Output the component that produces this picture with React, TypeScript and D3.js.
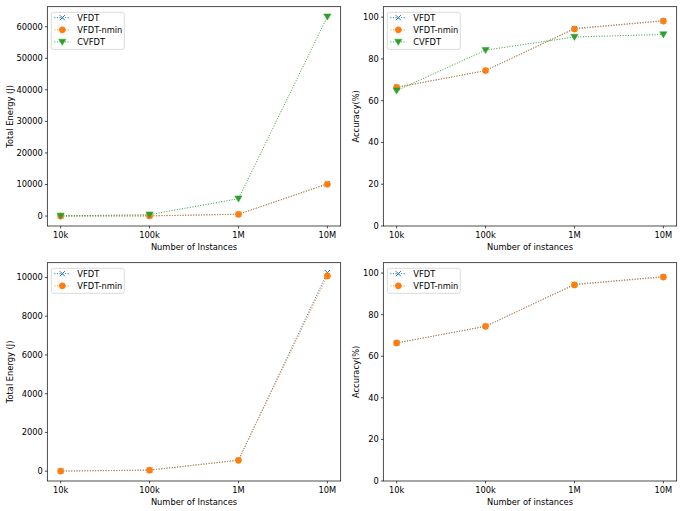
import React from "react";
import * as d3 from "d3";

const categories = ["10k", "100k", "1M", "10M"];
const energyVFDT = [5, 55, 570, 10250];
const energyNmin = [5, 50, 560, 10080];
const energyCVFDT = [60, 450, 5500, 63200];
const accVFDT = [66.4, 74.4, 94.6, 98.3];
const accNmin = [66.4, 74.4, 94.3, 98.1];
const accCVFDT = [64.8, 84.2, 90.5, 91.7];
const ticksEnergyTop = [0, 10000, 20000, 30000, 40000, 50000, 60000];
const ticksEnergyBottom = [0, 2000, 4000, 6000, 8000, 10000];
const ticksAcc = [0, 20, 40, 60, 80, 100];

const BLUE = "#1f77b4";
const ORANGE = "#ff7f0e";
const GREEN = "#2ca02c";
const FONT = "DejaVu Sans, sans-serif";
const FS = 8.3;

type Series = { name: string; values: number[]; color: string; marker: "x" | "o" | "v" };

function Marker({ type, x, y, color }: { type: string; x: number; y: number; color: string }) {
  if (type === "x") {
    const r = 2.6;
    return (
      <path
        d={`M${x - r},${y - r}L${x + r},${y + r}M${x - r},${y + r}L${x + r},${y - r}`}
        stroke={color}
        strokeWidth={1}
        fill="none"
      />
    );
  }
  if (type === "o") {
    return <circle cx={x} cy={y} r={3.1} fill={color} stroke={color} strokeWidth={0.6} />;
  }
  const r = 3.6;
  return (
    <path
      d={`M${x - r},${y - r * 0.75}L${x + r},${y - r * 0.75}L${x},${y + r * 0.95}Z`}
      fill={color}
      stroke={color}
      strokeWidth={0.5}
    />
  );
}

function Panel({
  left, top, right, bottom, series, yDomain, yTicks, yLabel, xLabel, yLabelOffset,
}: {
  left: number; top: number; right: number; bottom: number; series: Series[];
  yDomain: [number, number]; yTicks: number[]; yLabel: string; xLabel: string; yLabelOffset: number;
}) {
  const idx = categories.map((_, i) => i);
  const x = d3.scaleLinear().domain([-0.15, categories.length - 1 + 0.15]).range([left, right]);
  const y = d3.scaleLinear().domain(yDomain).range([bottom, top]);
  const line = d3.line<number>().x((_, i) => x(i)).y((d) => y(d));
  const legTop = top + 5.6;
  const legLeft = left + 4;
  const legW = 73;
  const legH = 12.1 * series.length + 0.8;
  return (
    <g>
      {series.map((s) => (
        <path key={s.name} d={line(s.values) || ""} fill="none" stroke={s.color} strokeWidth={1}
          strokeDasharray="1,1.65" />
      ))}
      {series.map((s) => (
        <g key={s.name + "m"}>
          {s.values.map((v, i) => (
            <Marker key={i} type={s.marker} x={x(i)} y={y(v)} color={s.color} />
          ))}
        </g>
      ))}
      <rect x={left} y={top} width={right - left} height={bottom - top} fill="none" stroke="#000" strokeWidth={0.7} />
      {idx.map((i) => (
        <g key={i}>
          <line x1={x(i)} x2={x(i)} y1={bottom} y2={bottom + 2.4} stroke="#000" strokeWidth={0.7} />
          <text x={x(i)} y={bottom + 12.2} textAnchor="middle" fontSize={FS} fontFamily={FONT} fill="#000">
            {categories[i]}
          </text>
        </g>
      ))}
      {yTicks.map((t) => (
        <g key={t}>
          <line x1={left - 2.4} x2={left} y1={y(t)} y2={y(t)} stroke="#000" strokeWidth={0.7} />
          <text x={left - 4.5} y={y(t)} dy="0.35em" textAnchor="end" fontSize={FS} fontFamily={FONT} fill="#000">
            {t}
          </text>
        </g>
      ))}
      <text x={(left + right) / 2} y={bottom + 23.6} textAnchor="middle" fontSize={FS} fontFamily={FONT} fill="#000">
        {xLabel}
      </text>
      <text
        transform={`translate(${left - yLabelOffset},${(top + bottom) / 2}) rotate(-90)`}
        textAnchor="middle"
        dy="0.35em"
        fontSize={FS}
        fontFamily={FONT}
        fill="#000"
      >
        {yLabel}
      </text>
      <rect x={legLeft} y={legTop} width={legW} height={legH} rx={2} fill="#fff" fillOpacity={0.8}
        stroke="#ccc" strokeWidth={0.7} />
      {series.map((s, i) => {
        const cy = legTop + 5.4 + i * 12.1;
        return (
          <g key={s.name + "l"}>
            <line x1={legLeft + 3} x2={legLeft + 19} y1={cy} y2={cy} stroke={s.color} strokeWidth={1}
              strokeDasharray="1,1.65" />
            <Marker type={s.marker} x={legLeft + 11} y={cy} color={s.color} />
            <text x={legLeft + 26} y={cy} dy="0.35em" fontSize={FS} fontFamily={FONT} fill="#000">
              {s.name}
            </text>
          </g>
        );
      })}
    </g>
  );
}

function padDomain(arrs: number[][]): [number, number] {
  const all = arrs.flat();
  const mn = d3.min(all) as number;
  const mx = d3.max(all) as number;
  const sp = mx - mn;
  return [mn - 0.05 * sp, mx + 0.05 * sp];
}

export default function App() {
  const s3Energy: Series[] = [
    { name: "VFDT", values: energyVFDT, color: BLUE, marker: "x" },
    { name: "VFDT-nmin", values: energyNmin, color: ORANGE, marker: "o" },
    { name: "CVFDT", values: energyCVFDT, color: GREEN, marker: "v" },
  ];
  const s3Acc: Series[] = [
    { name: "VFDT", values: accVFDT, color: BLUE, marker: "x" },
    { name: "VFDT-nmin", values: accNmin, color: ORANGE, marker: "o" },
    { name: "CVFDT", values: accCVFDT, color: GREEN, marker: "v" },
  ];
  const s2Energy = s3Energy.slice(0, 2);
  const s2Acc = s3Acc.slice(0, 2);
  return (
    <div style={{ position: "fixed", left: 0, top: 0 }}>
      <svg width={685} height={511} style={{ display: "block", background: "#fff" }}>
        <Panel left={47.3} top={6.7} right={340.7} bottom={226} series={s3Energy}
          yDomain={padDomain([energyVFDT, energyNmin, energyCVFDT])} yTicks={ticksEnergyTop}
          yLabel="Total Energy (J)" xLabel="Number of Instances" yLabelOffset={37.3} />
        <Panel left={383.3} top={6.7} right={676.7} bottom={226} series={s3Acc}
          yDomain={[0, 105]} yTicks={ticksAcc}
          yLabel="Accuracy(%)" xLabel="Number of instances" yLabelOffset={27.3} />
        <Panel left={47.3} top={262.7} right={340.7} bottom={481} series={s2Energy}
          yDomain={padDomain([energyVFDT, energyNmin])} yTicks={ticksEnergyBottom}
          yLabel="Total Energy (J)" xLabel="Number of Instances" yLabelOffset={37.3} />
        <Panel left={383.3} top={262.7} right={676.7} bottom={481} series={s2Acc}
          yDomain={[0, 105]} yTicks={ticksAcc}
          yLabel="Accuracy(%)" xLabel="Number of instances" yLabelOffset={27.3} />
      </svg>
    </div>
  );
}
